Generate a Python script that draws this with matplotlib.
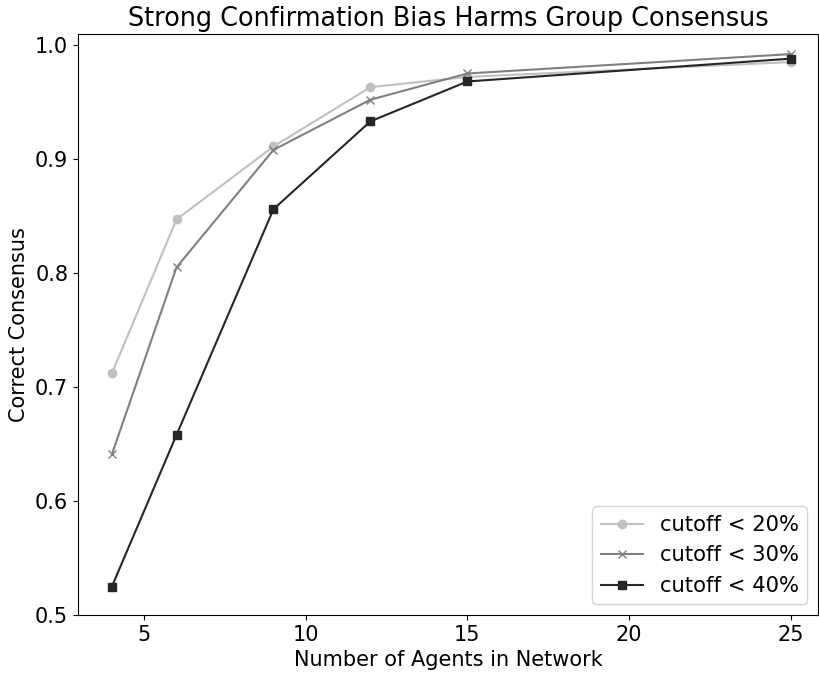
import numpy as np
import matplotlib
matplotlib.use('Agg')
import matplotlib.pyplot as plt

# network sizes and correct-consensus rates per cutoff
agents = [4, 6, 9, 12, 15, 25]
cutoff_20 = [0.712, 0.847, 0.911, 0.963, 0.972, 0.985]
cutoff_30 = [0.641, 0.805, 0.908, 0.952, 0.975, 0.992]
cutoff_40 = [0.525, 0.658, 0.856, 0.933, 0.968, 0.988]
labels = ['cutoff < 20%', 'cutoff < 30%', 'cutoff < 40%']

fig = plt.figure(figsize=(8.19, 6.74), dpi=100)
ax = fig.add_axes([0.0952, 0.0875, 0.9036, 0.862])

ax.plot(agents, cutoff_20, marker='o', color='#c0c0c0', label=labels[0])
ax.plot(agents, cutoff_30, marker='x', color='#808080', label=labels[1])
ax.plot(agents, cutoff_40, marker='s', color='#262626', label=labels[2])

ax.set_xlim(2.95, 25.85)
ax.set_ylim(0.5, 1.0096)
ax.set_xticks([5, 10, 15, 20, 25])
ax.set_yticks([0.5, 0.6, 0.7, 0.8, 0.9, 1.0])
ax.tick_params(labelsize=15)

ax.set_title('Strong Confirmation Bias Harms Group Consensus', fontsize=18.4)
ax.set_xlabel('Number of Agents in Network', fontsize=15)
ax.set_ylabel('Correct Consensus', fontsize=15)
ax.legend(loc='lower right', fontsize=15.2)

fig.savefig('out.png', dpi=100)
